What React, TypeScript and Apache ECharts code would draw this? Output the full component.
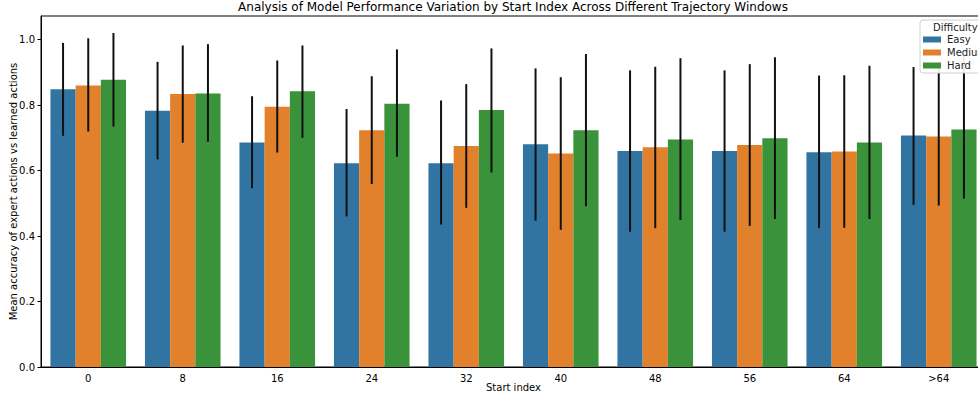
import React, { useEffect, useRef } from "react";
import * as echarts from "echarts";

const categories = ["0", "8", "16", "24", "32", "40", "48", "56", "64", ">64"];
const difficulties = ["Easy", "Medium", "Hard"];

const easy = [0.848, 0.783, 0.686, 0.622, 0.622, 0.68, 0.66, 0.66, 0.656, 0.707];
const easyLow = [0.706, 0.634, 0.546, 0.46, 0.435, 0.447, 0.413, 0.413, 0.424, 0.495];
const easyHigh = [0.99, 0.932, 0.827, 0.788, 0.814, 0.912, 0.906, 0.906, 0.89, 0.916];

const medium = [0.86, 0.834, 0.795, 0.723, 0.675, 0.652, 0.671, 0.678, 0.658, 0.704];
const mediumLow = [0.719, 0.685, 0.655, 0.559, 0.486, 0.419, 0.424, 0.431, 0.425, 0.493];
const mediumHigh = [1.004, 0.982, 0.936, 0.888, 0.864, 0.885, 0.917, 0.925, 0.891, 0.93];

const hard = [0.877, 0.835, 0.842, 0.804, 0.785, 0.723, 0.695, 0.699, 0.686, 0.725];
const hardLow = [0.734, 0.688, 0.7, 0.642, 0.594, 0.491, 0.449, 0.452, 0.452, 0.514];
const hardHigh = [1.02, 0.986, 0.982, 0.97, 0.973, 0.956, 0.943, 0.946, 0.92, 0.95];

const yTicks = [0, 0.2, 0.4, 0.6, 0.8, 1.0];

const colors = ["#3274a1", "#e1812c", "#3a923a"];
const FONT = "DejaVu Sans";

export default function App() {
  const ref = useRef<HTMLDivElement>(null);
  useEffect(() => {
    if (!ref.current) return;
    const chart = echarts.init(ref.current, null, { renderer: "svg" });
    const means = [easy, medium, hard];
    const lows = [easyLow, mediumLow, hardLow];
    const highs = [easyHigh, mediumHigh, hardHigh];
    const errData: number[][] = [];
    for (let g = 0; g < 3; g++) {
      for (let i = 0; i < categories.length; i++) {
        errData.push([i, g, lows[g][i], highs[g][i]]);
      }
    }
    chart.setOption({
      animation: false,
      textStyle: { fontFamily: FONT },
      title: {
        text: "Analysis of Model Performance Variation by Start Index Across Different Trajectory Windows",
        left: 513,
        textAlign: "center",
        top: 1,
        padding: 0,
        textStyle: { fontFamily: FONT, fontSize: 12, fontWeight: "normal", color: "#000" },
      },
      grid: {
        left: 41,
        top: 16,
        bottom: 29,
        width: 945,
        show: true,
        borderColor: "#000",
        borderWidth: 1,
        backgroundColor: "transparent",
        outerBoundsMode: "none",
      },
      legend: {
        data: difficulties,
        orient: "vertical",
        left: 920,
        top: 20,
        padding: [14, 30, 2, 3],
        itemWidth: 18,
        itemHeight: 6,
        itemGap: 2,
        icon: "rect",
        backgroundColor: "rgba(255,255,255,0.92)",
        borderColor: "#d0d0d0",
        borderWidth: 1,
        borderRadius: 3,
        z: 20,
        textStyle: { fontFamily: FONT, fontSize: 10, color: "#222", lineHeight: 11, padding: [0, 0, 0, 1] },
      },
      graphic: [
        {
          type: "text",
          left: 933,
          top: 22,
          z: 30,
          style: { text: "Difficulty", fontFamily: FONT, fontSize: 10, fill: "#222" },
        },
      ],
      xAxis: {
        type: "category",
        data: categories,
        name: "Start index",
        nameLocation: "middle",
        nameGap: 15,
        nameMoveOverlap: false,
        nameTextStyle: { fontFamily: FONT, fontSize: 10, color: "#000" },
        axisLine: { lineStyle: { color: "#000", width: 1 } },
        axisTick: { alignWithLabel: true, length: 3.5, lineStyle: { color: "#000" } },
        axisLabel: { fontFamily: FONT, fontSize: 10, color: "#000", margin: 6 },
        splitLine: { show: false },
      },
      yAxis: {
        type: "value",
        min: 0,
        max: 1.072,
        interval: 0.2,
        name: "Mean accuracy of expert actions vs learned actions",
        nameLocation: "middle",
        nameGap: 23,
        nameMoveOverlap: false,
        nameTextStyle: { fontFamily: FONT, fontSize: 10, color: "#000" },
        axisLine: { show: true, lineStyle: { color: "#000", width: 1 } },
        axisTick: { show: true, length: 3.5, lineStyle: { color: "#000" }, customValues: yTicks },
        axisLabel: {
          fontFamily: FONT,
          fontSize: 10,
          color: "#000",
          margin: 6,
          customValues: yTicks,
          formatter: (v: number) => v.toFixed(1),
        },
        splitLine: { show: false },
      },
      series: [
        ...difficulties.map((name, g) => ({
          name,
          type: "bar",
          data: means[g],
          itemStyle: { color: colors[g] },
          barGap: "0%",
          barCategoryGap: "20%",
          z: 2,
        })),
        {
          type: "custom",
          name: "err",
          z: 3,
          silent: true,
          data: errData,
          encode: { x: 0, y: [2, 3] },
          renderItem: (params: any, api: any) => {
            const cat = api.value(0);
            const g = api.value(1);
            const lo = api.coord([cat, api.value(2)]);
            const hi = api.coord([cat, api.value(3)]);
            const bw = (api.size([1, 0])[0] * 0.8) / 3;
            const x = lo[0] + (g - 1) * bw;
            return {
              type: "line",
              shape: { x1: x, y1: lo[1], x2: x, y2: hi[1] },
              style: { stroke: "#111", lineWidth: 2 },
            };
          },
        },
      ],
    } as any);
    return () => chart.dispose();
  }, []);
  return (
    <div
      ref={ref}
      style={{ position: "fixed", left: 0, top: 0, width: 978, height: 396, background: "#fff" }}
    />
  );
}
